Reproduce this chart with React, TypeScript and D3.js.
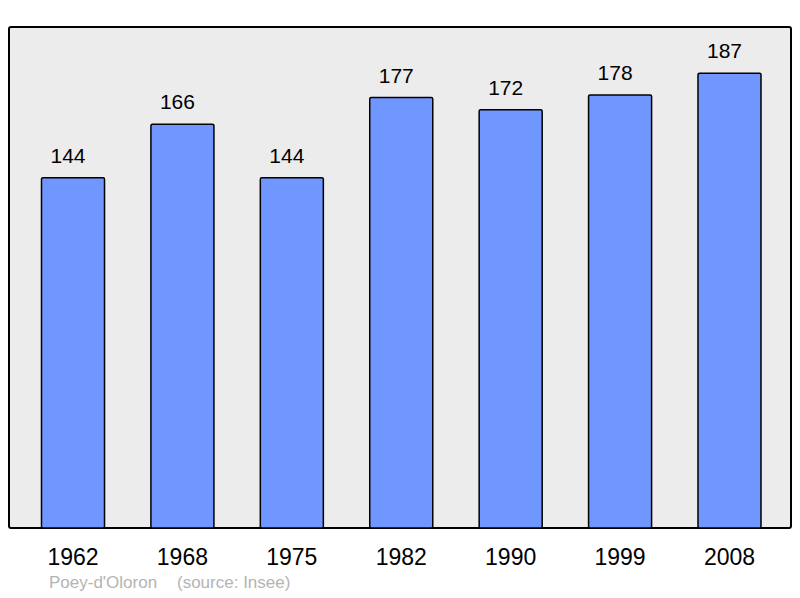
import React from "react";
import * as d3 from "d3";

const years = ["1962", "1968", "1975", "1982", "1990", "1999", "2008"];
const population = [144, 166, 144, 177, 172, 178, 187];
const townName = "Poey-d'Oloron";
const sourceText = "(source: Insee)";

const W = 800;
const H = 598;
const frame = { left: 9, top: 27, right: 791, bottom: 528 };

export default function App() {
  const x = d3.scaleBand<string>().domain(years).range([41.5, 761]).paddingInner(0.424).paddingOuter(0);
  const y = d3.scaleLinear().domain([0, 206]).range([frame.bottom, frame.top]);
  const font = "'Liberation Sans', Arial, sans-serif";
  return (
    <svg width={W} height={H} style={{ position: "absolute", left: 0, top: 0 }} fontFamily={font}>
      <rect x={frame.left} y={frame.top} width={frame.right - frame.left} height={frame.bottom - frame.top}
        rx={2} fill="#ececec" stroke="#000" strokeWidth={2} />
      {years.map((yr, i) => {
        const bx = x(yr)!;
        const top = y(population[i]);
        const cx = bx + x.bandwidth() / 2;
        return (
          <g key={yr}>
            <rect x={bx} y={top} width={x.bandwidth()} height={y(0) - top} rx={1.5}
              fill="#7096ff" stroke="#000" strokeWidth={1.5} />
            <text x={cx - 5} y={top - 15} textAnchor="middle" fontSize={21} fill="#000">
              {population[i]}
            </text>
            <text x={cx} y={565} textAnchor="middle" fontSize={23} fill="#000">
              {yr}
            </text>
          </g>
        );
      })}
      <text x={49} y={588} fontSize={17} fill="#b4b4b4">{townName}</text>
      <text x={177} y={588} fontSize={17} fill="#b4b4b4">{sourceText}</text>
    </svg>
  );
}
